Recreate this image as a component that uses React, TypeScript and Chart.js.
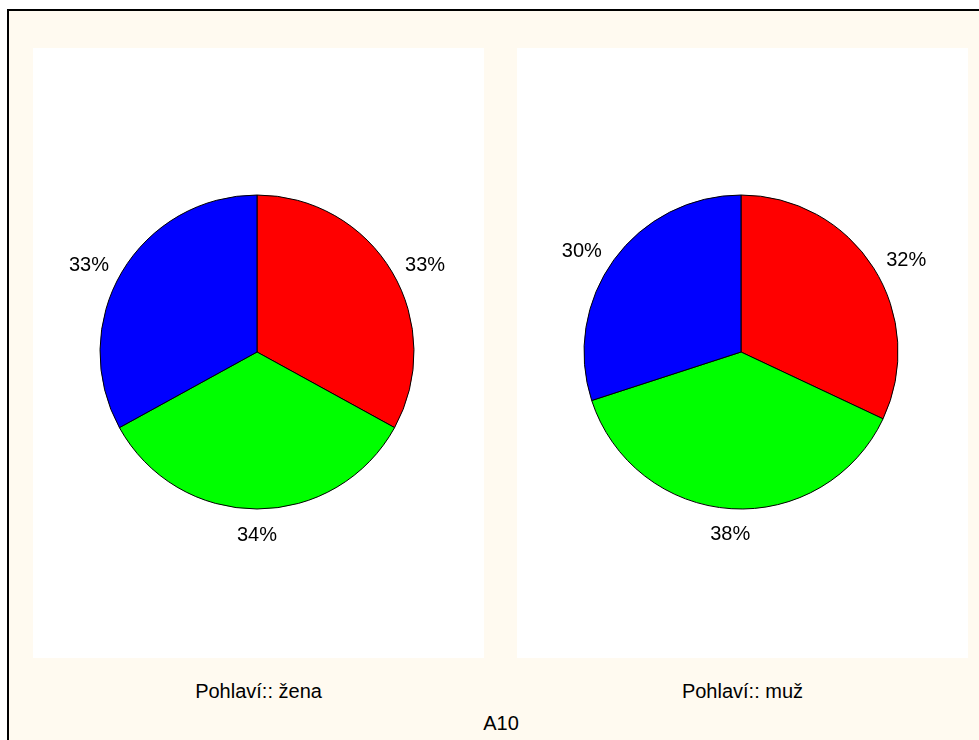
import React, { useEffect, useRef } from "react";
import { Chart, registerables } from "chart.js";

Chart.register(...registerables);

const categories = ["A", "B", "C"];
const colors = ["#ff0000", "#00ff00", "#0000ff"];
const womenValues = [33, 34, 33];
const menValues = [32, 38, 30];
const womenLabel = "Pohlaví:: žena";
const menLabel = "Pohlaví:: muž";
const overallLabel = "A10";

const FONT = '"Liberation Sans", Arial, sans-serif';

const outsideLabels = {
  id: "outsideLabels",
  afterDatasetsDraw(chart: any) {
    const ctx = chart.ctx;
    const meta = chart.getDatasetMeta(0);
    const data = chart.data.datasets[0].data as number[];
    const total = data.reduce((a, b) => a + b, 0);
    ctx.save();
    ctx.font = `20px ${FONT}`;
    ctx.fillStyle = "#000";
    meta.data.forEach((arc: any, i: number) => {
      const p = arc.getProps(["x", "y", "startAngle", "endAngle", "outerRadius"], true);
      const mid = (p.startAngle + p.endAngle) / 2;
      const ux = Math.cos(mid);
      const uy = Math.sin(mid);
      const r = p.outerRadius + 15;
      const ax = p.x + ux * r;
      const ay = p.y + uy * r;
      const txt = Math.round((data[i] / total) * 100) + "%";
      if (ux > 0.3) ctx.textAlign = "left";
      else if (ux < -0.3) ctx.textAlign = "right";
      else ctx.textAlign = "center";
      let ty = ay + 1;
      if (uy > 0.9) {
        ctx.textBaseline = "top";
      } else if (uy < -0.9) {
        ctx.textBaseline = "bottom";
      } else {
        ctx.textBaseline = "middle";
      }
      ctx.fillText(txt, ax, ty);
    });
    ctx.restore();
  },
};

function PieCanvas({ values, padRight, padBottom }: { values: number[]; padRight: number; padBottom: number }) {
  const ref = useRef<HTMLCanvasElement | null>(null);
  useEffect(() => {
    if (!ref.current) return;
    const chart = new Chart(ref.current, {
      type: "pie",
      data: {
        labels: categories,
        datasets: [
          {
            data: values,
            backgroundColor: colors,
            borderColor: "#000",
            borderWidth: 1,
          },
        ],
      },
      options: {
        responsive: false,
        maintainAspectRatio: false,
        animation: false,
        radius: 157,
        layout: { padding: { left: 0, top: 0, right: padRight, bottom: padBottom } },
        plugins: {
          legend: { display: false },
          tooltip: { enabled: false },
          title: { display: false },
        },
      },
      plugins: [outsideLabels],
    });
    return () => chart.destroy();
  }, [values]);
  return <canvas ref={ref} width={451} height={610} style={{ display: "block", width: 451, height: 610 }} />;
}

export default function App() {
  const textStyle: React.CSSProperties = {
    position: "absolute",
    fontFamily: FONT,
    fontSize: 20,
    lineHeight: "20px",
    color: "#000",
    textAlign: "center",
    whiteSpace: "nowrap",
  };
  return (
    <div style={{ position: "absolute", left: 0, top: 0, width: 979, height: 740, background: "#fff", overflow: "hidden" }}>
      <div
        style={{
          position: "absolute",
          left: 7,
          top: 9,
          width: 972,
          height: 731,
          boxSizing: "border-box",
          borderLeft: "2px solid #000",
          borderTop: "2px solid #000",
          background: "#fffaf0",
        }}
      />
      <div style={{ position: "absolute", left: 33, top: 48, width: 451, height: 610, background: "#fff" }}>
        <PieCanvas values={womenValues} padRight={3} padBottom={2} />
      </div>
      <div style={{ position: "absolute", left: 517, top: 48, width: 451, height: 610, background: "#fff" }}>
        <PieCanvas values={menValues} padRight={3} padBottom={2} />
      </div>
      <div style={{ ...textStyle, left: 33, top: 681, width: 451 }}>{womenLabel}</div>
      <div style={{ ...textStyle, left: 517, top: 681, width: 451 }}>{menLabel}</div>
      <div style={{ ...textStyle, left: 401, top: 713, width: 200 }}>{overallLabel}</div>
    </div>
  );
}
